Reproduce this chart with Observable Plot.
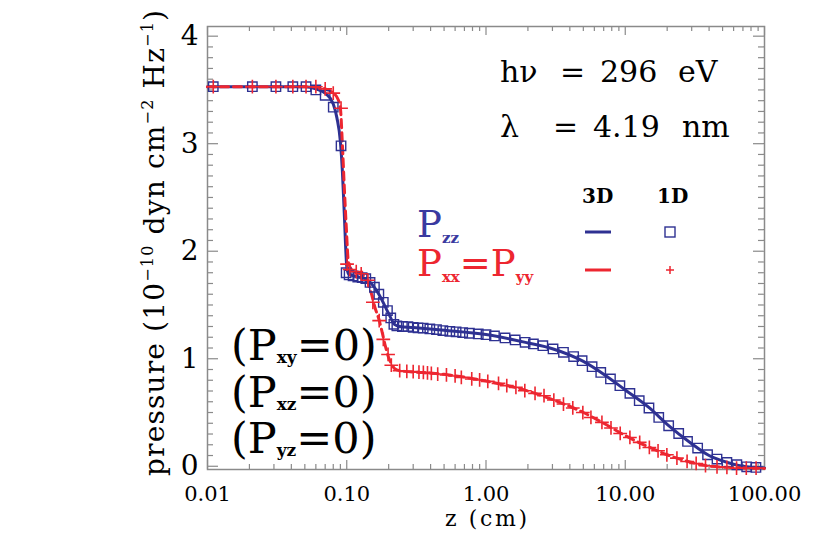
<!DOCTYPE html>
<html><head><meta charset="utf-8">
<script src="https://cdn.jsdelivr.net/npm/d3@7"></script>
<script src="https://cdn.jsdelivr.net/npm/@observablehq/plot@0.6"></script>
<style>body{margin:0;background:#fff}</style>
</head><body><div id="chart"></div>
<script>
// ---- data ----
const xTicks = [0.01, 0.1, 1, 10, 100];
const yTicks = [0, 1, 2, 3, 4];

// 3D solution (lines)
const zzZ3D = [0.01,0.05,0.06,0.07,0.08,0.085,0.09,0.093,0.096,0.1,0.103,0.12,0.135,0.15,0.17,0.2,0.22,0.24,0.3,0.5,1,2,3,5,7,10,15,20,30,40,50,70,100];
const zzP3D = [3.53,3.53,3.51,3.47,3.37,3.24,3.02,2.75,2.35,1.86,1.79,1.76,1.745,1.70,1.60,1.42,1.32,1.30,1.29,1.265,1.225,1.147,1.093,0.975,0.856,0.71,0.54,0.39,0.21,0.10,0.05,0.0,-0.015];
const xxZ3D = [0.01,0.06,0.07,0.08,0.086,0.09,0.093,0.096,0.099,0.103,0.11,0.125,0.14,0.15,0.16,0.17,0.18,0.19,0.2,0.21,0.22,0.25,0.35,0.5,1,2,3,5,7,10,15,20,30,40,60,100];
const xxP3D = [3.53,3.53,3.51,3.47,3.42,3.33,3.0,2.6,2.25,1.89,1.82,1.79,1.73,1.61,1.47,1.37,1.24,1.11,1.01,0.95,0.91,0.885,0.872,0.855,0.792,0.70,0.62,0.50,0.40,0.285,0.175,0.107,0.035,0.003,-0.012,-0.02];

// 1D solution (markers)
const zzZ1D = [0.011,0.021,0.031,0.041,0.051,0.06,0.07,0.08,0.091,
  0.099,0.104,0.111,0.12,0.129,0.137,0.147,0.158,0.17,0.183,0.196,0.207,0.218,0.229,
  0.251,0.275,0.30,0.325,0.354,0.395,0.441,0.49,0.55,0.61,0.68,0.76,0.88,1.0,
  1.15,1.37,1.62,1.91,2.19,2.56,3.03,3.60,4.26,
  4.9,5.78,6.67,7.83,9.15,10.8,12.6,14.8,17.4,20.5,24.2,28.0,33.1,39.0,45.6,53.7,63.3,74.5,86.8];
const zzP1D = [3.53,3.53,3.53,3.53,3.53,3.50,3.45,3.34,2.98,
  1.80,1.78,1.77,1.76,1.755,1.745,1.71,1.665,1.60,1.525,1.448,1.38,1.32,1.305,
  1.30,1.299,1.292,1.287,1.285,1.277,1.271,1.262,1.255,1.25,1.243,1.237,1.231,1.224,
  1.212,1.194,1.175,1.153,1.138,1.122,1.091,1.06,1.02,
  0.982,0.926,0.873,0.812,0.75,0.678,0.61,0.542,0.454,0.377,0.305,0.231,0.169,0.107,0.067,0.035,0.014,-0.005,-0.011];
const xxZ1D = [0.011,0.021,0.031,0.041,0.051,0.06,0.07,0.08,0.091,
  0.1005,0.105,0.117,0.127,0.142,0.154,0.171,0.183,0.198,0.209,
  0.24,0.27,0.30,0.33,0.355,0.38,0.405,0.45,0.52,0.60,0.665,0.79,0.90,1.03,1.23,1.41,1.64,1.90,2.25,2.61,3.07,3.6,4.2,
  4.96,5.67,6.8,7.9,9.2,10.8,12.7,14.9,17.2,19.9,23.5,27.8,32.3,37.7,45.6,53.7,63,74,87];
const xxP1D = [3.53,3.53,3.53,3.53,3.53,3.53,3.51,3.47,3.33,
  1.88,1.83,1.81,1.79,1.73,1.525,1.355,1.18,1.04,0.94,
  0.889,0.883,0.88,0.875,0.873,0.868,0.864,0.858,0.849,0.84,0.827,0.812,0.803,0.79,0.771,0.75,0.734,0.703,0.678,0.656,0.616,0.579,0.542,
  0.50,0.454,0.408,0.356,0.305,0.268,0.222,0.175,0.144,0.107,0.076,0.045,0.026,0.005,-0.005,-0.011,-0.017,-0.017,-0.017];

// ---- build ----
const toRows = (zs, ps) => zs.map((z, i) => ({z, p: ps[i]}));
const zz3D = toRows(zzZ3D, zzP3D), xx3D = toRows(xxZ3D, xxP3D);
const zz1D = toRows(zzZ1D, zzP1D), xx1D = toRows(xxZ1D, xxP1D);

const W = 830, H = 553, mL = 207, mR = 66, mT = 26, mB = 84;
const innerW = W - mL - mR, innerH = H - mT - mB;
const BLUE = "#2e3192", RED = "#ed2630", GRAY = "#8a8a8a";
const FONT = "'DejaVu Serif', 'Liberation Serif', serif";

const xMinor = [];
for (const d of [0.01, 0.1, 1, 10]) for (let k = 2; k < 10; k++) xMinor.push(+(k * d).toPrecision(3));
const yMinor = d3.range(0, 41).map(i => i / 10).filter(v => !Number.isInteger(v));

const plot = Plot.plot({
  width: W, height: H,
  marginLeft: mL, marginRight: mR, marginTop: mT, marginBottom: mB,
  style: {background: "white", color: "black"},
  x: {type: "log", domain: [0.01, 100]},
  y: {domain: [-0.03, 4.09]},
  marks: [
    Plot.axisX(xTicks, {anchor: "bottom", tickSize: 0, tickPadding: 17, fontSize: 21, fontFamily: FONT, tickFormat: d => d.toFixed(2), label: null}),
    Plot.axisY(yTicks, {anchor: "left", tickSize: 0, tickPadding: 9, fontSize: 28, fontFamily: FONT, tickFormat: d => String(d), label: null}),
    Plot.tickX(xTicks, {x: d => d, insetTop: innerH - 9, stroke: GRAY, strokeWidth: 1.2}),
    Plot.tickX(xTicks, {x: d => d, insetBottom: innerH - 9, stroke: GRAY, strokeWidth: 1.2}),
    Plot.tickX(xMinor, {x: d => d, insetTop: innerH - 5, stroke: GRAY, strokeWidth: 1.2}),
    Plot.tickX(xMinor, {x: d => d, insetBottom: innerH - 5, stroke: GRAY, strokeWidth: 1.2}),
    Plot.tickY(yTicks, {y: d => d, insetRight: innerW - 11, stroke: GRAY, strokeWidth: 1.2}),
    Plot.tickY(yTicks, {y: d => d, insetLeft: innerW - 11, stroke: GRAY, strokeWidth: 1.2}),
    Plot.tickY(yMinor, {y: d => d, insetRight: innerW - 6, stroke: GRAY, strokeWidth: 1.2}),
    Plot.tickY(yMinor, {y: d => d, insetLeft: innerW - 6, stroke: GRAY, strokeWidth: 1.2}),
    Plot.frame({stroke: GRAY, strokeWidth: 1.5}),
    Plot.line(zz3D, {x: "z", y: "p", stroke: BLUE, strokeWidth: 3, curve: "monotone-x"}),
    Plot.line(xx3D, {x: "z", y: "p", stroke: RED, strokeWidth: 3, strokeDasharray: "8,5", curve: "monotone-x"}),
    Plot.dot(zz1D, {x: "z", y: "p", symbol: "square", r: 5.3, stroke: BLUE, strokeWidth: 1.4, fill: "none"}),
    Plot.dot(xx1D, {x: "z", y: "p", symbol: "plus", r: 4.5, stroke: RED, strokeWidth: 1.6})
  ]
});
document.getElementById("chart").appendChild(plot);

// ---- annotations ----
const svg = d3.select(plot);
const g = svg.append("g").attr("font-family", FONT).attr("fill", "black").attr("text-anchor", "start");

// y label
const yl = g.append("text").attr("transform", "translate(164,243) rotate(-90)")
  .attr("text-anchor", "middle").attr("font-size", 28)
  .attr("textLength", 466).attr("lengthAdjust", "spacing");
yl.append("tspan").text("pressure (10");
yl.append("tspan").attr("dy", -11).attr("font-size", 16).text("−10");
yl.append("tspan").attr("dy", 11).text(" dyn cm");
yl.append("tspan").attr("dy", -11).attr("font-size", 16).text("−2");
yl.append("tspan").attr("dy", 11).text(" Hz");
yl.append("tspan").attr("dy", -11).attr("font-size", 16).text("−1");
yl.append("tspan").attr("dy", 11).text(")");

// x label
g.append("text").attr("x", 486).attr("y", 526).attr("text-anchor", "middle")
  .attr("font-size", 22).attr("textLength", 82).attr("lengthAdjust", "spacing").text("z (cm)");

// energy / wavelength
for (const [t, x, y] of [["hν", 500, 82], ["=", 560, 82], ["296", 600, 82], ["eV", 678, 82],
                          ["λ", 500, 137], ["=", 553, 137], ["4.19", 593, 137], ["nm", 682, 137]]) {
  g.append("text").attr("x", x).attr("y", y).attr("font-size", 30).text(t);
}

// legend header
g.append("text").attr("x", 582).attr("y", 203).attr("font-size", 20).attr("font-weight", "bold").text("3D");
g.append("text").attr("x", 657).attr("y", 203).attr("font-size", 20).attr("font-weight", "bold").text("1D");

// legend labels
const lz = g.append("text").attr("x", 417).attr("y", 237).attr("fill", "#3a3aa0").attr("font-size", 37);
lz.append("tspan").text("P");
lz.append("tspan").attr("dy", 6).attr("font-size", 15).attr("font-weight", "bold").text("zz");

const lx = g.append("text").attr("x", 417).attr("y", 276).attr("fill", RED).attr("font-size", 37);
lx.append("tspan").text("P");
lx.append("tspan").attr("dy", 6).attr("font-size", 15).attr("font-weight", "bold").text("xx");
lx.append("tspan").attr("dy", -6).text("=P");
lx.append("tspan").attr("dy", 6).attr("font-size", 15).attr("font-weight", "bold").text("yy");

// legend samples
g.append("line").attr("x1", 585).attr("x2", 611).attr("y1", 232).attr("y2", 232).attr("stroke", BLUE).attr("stroke-width", 3);
g.append("rect").attr("x", 665).attr("y", 227).attr("width", 10).attr("height", 10).attr("fill", "none").attr("stroke", BLUE).attr("stroke-width", 1.4);
g.append("line").attr("x1", 585).attr("x2", 611).attr("y1", 270).attr("y2", 270).attr("stroke", RED).attr("stroke-width", 3);
g.append("path").attr("d", "M666,270H674M670,266V274").attr("stroke", RED).attr("stroke-width", 1.5);

// off-diagonal notes
for (const [sub, y] of [["xy", 360], ["xz", 407], ["yz", 453]]) {
  const t = g.append("text").attr("x", 231).attr("y", y).attr("font-size", 43);
  t.append("tspan").text("(P");
  t.append("tspan").attr("dy", 3).attr("font-size", 17).attr("font-weight", "bold").text(sub);
  t.append("tspan").attr("dy", -3).text("=0)");
}
</script>
</body></html>
